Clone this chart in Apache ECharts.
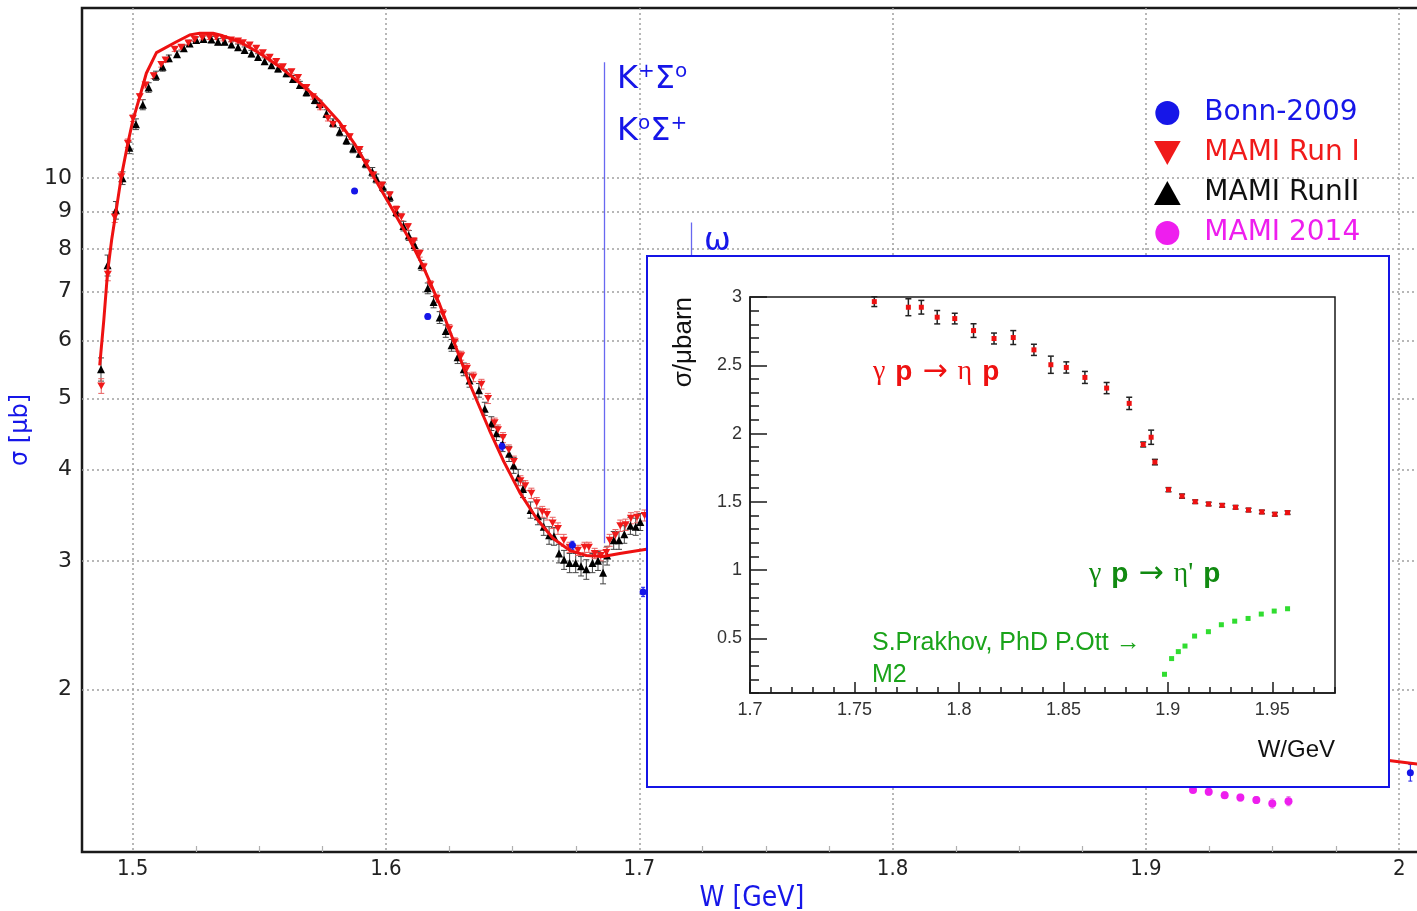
<!DOCTYPE html>
<html>
<head>
<meta charset="utf-8">
<script src="https://cdn.jsdelivr.net/npm/echarts@6/dist/echarts.min.js"></script>
<style>
  html, body { margin: 0; padding: 0; background: #fff; }
  #chart { width: 1417px; height: 911px; }
</style>
</head>
<body>
<div id="chart"></div>
<script>
// ---- eta photoproduction total cross section, gamma p -> eta p ----

// model curve (W in GeV, sigma in microbarn)
const curveW = [1.4870, 1.4886, 1.4901, 1.4917, 1.4929, 1.4955, 1.4981, 1.5001, 1.5028, 1.5054,
  1.5094, 1.5173, 1.5225, 1.5265, 1.5317, 1.5356, 1.5422, 1.5501, 1.5580, 1.5659,
  1.5738, 1.5817, 1.5876, 1.5940, 1.6015, 1.6094, 1.6146, 1.6212, 1.6271, 1.6330,
  1.6409, 1.6462, 1.6528, 1.6594, 1.6659, 1.6725, 1.6791, 1.6857, 1.6923, 1.7028,
  1.7200, 1.7500, 1.8000, 1.8500, 1.9000, 1.9500, 1.9959, 2.0090];
const curveSigma = [5.55, 6.39, 7.44, 8.23, 8.76, 10.04, 11.16, 12.0, 12.92, 13.91,
  14.84, 15.36, 15.69, 15.78, 15.78, 15.65, 15.36, 14.81, 14.2, 13.50,
  12.78, 11.92, 11.14, 10.20, 9.20, 8.23, 7.58, 6.72, 5.94, 5.24,
  4.52, 4.12, 3.72, 3.43, 3.22, 3.10, 3.05, 3.04, 3.07, 3.11,
  3.15, 3.0, 2.7, 2.35, 1.9, 1.68, 1.60, 1.58];

// MAMI Run I
const runIW = [1.4876, 1.4902, 1.4929, 1.4955, 1.4981, 1.5001, 1.5028, 1.5051, 1.5083, 1.5113,
  1.5130, 1.5166, 1.5192, 1.5220, 1.5245, 1.5275, 1.5303, 1.5330, 1.5358, 1.5388,
  1.5416, 1.5435, 1.5462, 1.5488, 1.5514, 1.5541, 1.5567, 1.5593, 1.5627, 1.5653,
  1.5686, 1.5712, 1.5740, 1.5771, 1.5791, 1.5830, 1.5857, 1.5896, 1.5922, 1.5950,
  1.5985, 1.6015, 1.6041, 1.6061, 1.6087, 1.6110, 1.6133, 1.6149, 1.6175, 1.6200,
  1.6225, 1.6250, 1.6272, 1.6297, 1.6320, 1.6345, 1.6377, 1.6403, 1.6429, 1.6442,
  1.6462, 1.6485, 1.6505, 1.6531, 1.6550, 1.6574, 1.6595, 1.6617, 1.6636, 1.6658,
  1.6679, 1.6702, 1.6725, 1.6758, 1.6784, 1.6801, 1.6824, 1.6848, 1.6870, 1.6883,
  1.6906, 1.6925, 1.6946, 1.6967, 1.6991, 1.7021];
const runISigma = [5.20, 7.39, 8.85, 10.04, 11.16, 12.07, 12.92, 13.40, 13.80, 14.30,
  14.50, 15.00, 15.10, 15.30, 15.47, 15.55, 15.57, 15.57, 15.50, 15.45,
  15.40, 15.31, 15.20, 15.05, 14.84, 14.63, 14.43, 14.20, 13.98, 13.73,
  13.30, 12.92, 12.50, 12.07, 11.85, 11.69, 11.39, 10.94, 10.47, 10.10,
  9.78, 9.48, 9.06, 8.85, 8.58, 8.20, 7.89, 7.56, 7.15, 6.85,
  6.52, 6.22, 5.97, 5.72, 5.50, 5.35, 5.23, 5.00, 4.63, 4.53,
  4.42, 4.25, 4.10, 3.86, 3.80, 3.71, 3.60, 3.50, 3.47, 3.38,
  3.32, 3.20, 3.13, 3.10, 3.13, 3.13, 3.07, 3.05, 3.08, 3.20,
  3.25, 3.35, 3.36, 3.43, 3.44, 3.46];
const runIErr = [0.12, 0.15, 0.15, 0.15, 0.15, 0.12, 0.12, 0.12, 0.12, 0.12,
  0.10, 0.10, 0.10, 0.10, 0.10, 0.10, 0.10, 0.10, 0.10, 0.10,
  0.10, 0.10, 0.10, 0.10, 0.10, 0.10, 0.10, 0.10, 0.10, 0.10,
  0.10, 0.10, 0.10, 0.10, 0.10, 0.10, 0.10, 0.10, 0.10, 0.10,
  0.10, 0.10, 0.10, 0.10, 0.09, 0.09, 0.09, 0.09, 0.09, 0.09,
  0.09, 0.09, 0.08, 0.08, 0.08, 0.08, 0.08, 0.08, 0.07, 0.07,
  0.07, 0.07, 0.07, 0.06, 0.06, 0.06, 0.06, 0.06, 0.06, 0.06,
  0.06, 0.06, 0.05, 0.05, 0.05, 0.05, 0.05, 0.05, 0.05, 0.06,
  0.06, 0.06, 0.06, 0.06, 0.06, 0.06];

// MAMI Run II
const runIIW = [1.4875, 1.4901, 1.4934, 1.4960, 1.4987, 1.5013, 1.5040, 1.5063, 1.5092, 1.5118,
  1.5143, 1.5175, 1.5202, 1.5225, 1.5251, 1.5280, 1.5311, 1.5337, 1.5363, 1.5390,
  1.5416, 1.5442, 1.5469, 1.5495, 1.5521, 1.5548, 1.5574, 1.5607, 1.5633, 1.5660,
  1.5686, 1.5719, 1.5738, 1.5765, 1.5791, 1.5817, 1.5844, 1.5870, 1.5896, 1.5920,
  1.5946, 1.5962, 1.5988, 1.6015, 1.6041, 1.6069, 1.6090, 1.6113, 1.6140, 1.6165,
  1.6188, 1.6212, 1.6236, 1.6259, 1.6283, 1.6307, 1.6330, 1.6367, 1.6390, 1.6416,
  1.6436, 1.6460, 1.6486, 1.6504, 1.6522, 1.6541, 1.6571, 1.6600, 1.6623, 1.6644,
  1.6663, 1.6683, 1.6703, 1.6725, 1.6749, 1.6770, 1.6791, 1.6815, 1.6837, 1.6857,
  1.6873, 1.6899, 1.6920, 1.6941, 1.6965, 1.6986, 1.7004];
const runIISigma = [5.48, 7.60, 9.04, 10.0, 11.0, 11.85, 12.6, 13.3, 13.8, 14.2,
  14.58, 14.77, 15.05, 15.28, 15.44, 15.49, 15.47, 15.36, 15.36, 15.23,
  15.10, 14.96, 14.80, 14.64, 14.45, 14.27, 14.12, 13.91, 13.66, 13.41,
  13.10, 12.79, 12.63, 12.25, 11.90, 11.57, 11.27, 10.98, 10.81, 10.47,
  10.20, 9.99, 9.73, 9.43, 8.99, 8.60, 8.35, 8.10, 7.60, 7.07,
  6.77, 6.45, 6.18, 5.91, 5.69, 5.48, 5.29, 5.13, 4.84, 4.62,
  4.48, 4.33, 4.20, 4.05, 3.90, 3.76, 3.52, 3.45, 3.34, 3.25,
  3.24, 3.07, 3.01, 2.98, 2.98, 2.95, 2.92, 2.98, 3.00, 2.89,
  3.05, 3.20, 3.20, 3.26, 3.35, 3.34, 3.39];
const runIIErr = [0.20, 0.25, 0.25, 0.20, 0.20, 0.20, 0.20, 0.20, 0.20, 0.20,
  0.15, 0.15, 0.15, 0.15, 0.15, 0.15, 0.15, 0.15, 0.15, 0.15,
  0.15, 0.15, 0.15, 0.15, 0.15, 0.15, 0.15, 0.15, 0.15, 0.15,
  0.15, 0.15, 0.15, 0.15, 0.15, 0.15, 0.15, 0.15, 0.14, 0.14,
  0.14, 0.14, 0.14, 0.14, 0.13, 0.13, 0.13, 0.13, 0.12, 0.12,
  0.12, 0.12, 0.12, 0.11, 0.11, 0.11, 0.11, 0.11, 0.10, 0.10,
  0.10, 0.10, 0.10, 0.10, 0.10, 0.10, 0.09, 0.09, 0.09, 0.09,
  0.09, 0.09, 0.09, 0.09, 0.09, 0.09, 0.09, 0.09, 0.09, 0.10,
  0.09, 0.09, 0.09, 0.09, 0.09, 0.09, 0.09];

// Bonn 2009
const bonnW = [1.5876, 1.6165, 1.6458, 1.6736, 1.7015, 2.0044];
const bonnSigma = [9.60, 6.47, 4.30, 3.15, 2.72, 1.54];
const bonnErr = [0.06, 0.05, 0.05, 0.04, 0.04, 0.04];

// MAMI 2014
const mami14W = [1.9186, 1.9248, 1.9311, 1.9373, 1.9436, 1.9499, 1.9563];
const mami14Sigma = [1.458, 1.450, 1.435, 1.424, 1.413, 1.398, 1.408];
const mami14Err = [0.010, 0.015, 0.015, 0.015, 0.015, 0.020, 0.020];

// production thresholds: K+Sigma0 / K0Sigma+ and omega
const thresholdW = [1.686, 1.7207];
const thresholdTop = [14.4, 8.7];
const thresholdBottom = [3.17, 3.0];

// inset: gamma p -> eta p and gamma p -> eta' p
const etaW = [1.7595, 1.7758, 1.7820, 1.7896, 1.7980, 1.8070, 1.8168, 1.8260, 1.8359, 1.8440,
  1.8514, 1.8603, 1.8707, 1.8815, 1.8882, 1.8920, 1.8938, 1.9003, 1.9068, 1.9131,
  1.9195, 1.9260, 1.9324, 1.9386, 1.9450, 1.9512, 1.9573];
const etaSigma = [2.966, 2.925, 2.925, 2.852, 2.842, 2.754, 2.696, 2.703, 2.613, 2.504,
  2.484, 2.411, 2.333, 2.221, 1.920, 1.973, 1.791, 1.589, 1.542, 1.501,
  1.484, 1.474, 1.460, 1.440, 1.426, 1.409, 1.421];
const etaErr = [0.036, 0.062, 0.050, 0.049, 0.039, 0.050, 0.040, 0.051, 0.041, 0.063,
  0.041, 0.044, 0.041, 0.045, 0.018, 0.052, 0.020, 0.015, 0.015, 0.013,
  0.013, 0.013, 0.013, 0.013, 0.013, 0.013, 0.013];
const etaPrimeW = [1.8984, 1.9018, 1.9050, 1.9082, 1.9128, 1.9194, 1.9256, 1.9320, 1.9384, 1.9447, 1.9509, 1.9573];
const etaPrimeSigma = [0.237, 0.352, 0.403, 0.444, 0.517, 0.549, 0.600, 0.626, 0.646, 0.678, 0.700, 0.717];
const etaPrimeErr = [0.006, 0.006, 0.006, 0.007, 0.007, 0.008, 0.008, 0.009, 0.009, 0.010, 0.010, 0.010];

// tick values
const mainWTicks = [1.5, 1.6, 1.7, 1.8, 1.9, 2.0];
const mainWMinor = [1.525, 1.55, 1.575, 1.625, 1.65, 1.675, 1.725, 1.75, 1.775,
  1.825, 1.85, 1.875, 1.925, 1.95, 1.975];
const mainSigmaTicks = [2, 3, 4, 5, 6, 7, 8, 9, 10];
const insetWTicks = [1.7, 1.75, 1.8, 1.85, 1.9, 1.95];
const insetSigmaTicks = [0.5, 1, 1.5, 2, 2.5, 3];

// ---- helpers ----
const pairs = (xs, ys) => xs.map((x, i) => [x, ys[i]]);
const bars = (xs, ys, es) => xs.map((x, i) => [x, ys[i] - es[i], ys[i] + es[i]]);

function errorBars(capHalf, color, width) {
  return function (params, api) {
    const x = api.value(0);
    const lo = api.coord([x, api.value(1)]);
    const hi = api.coord([x, api.value(2)]);
    const st = { stroke: color, lineWidth: width };
    return {
      type: 'group',
      children: [
        { type: 'line', shape: { x1: lo[0], y1: lo[1], x2: hi[0], y2: hi[1] }, style: st },
        { type: 'line', shape: { x1: lo[0] - capHalf, y1: lo[1], x2: lo[0] + capHalf, y2: lo[1] }, style: st },
        { type: 'line', shape: { x1: hi[0] - capHalf, y1: hi[1], x2: hi[0] + capHalf, y2: hi[1] }, style: st }
      ]
    };
  };
}

const BLUE = '#1616e8';
const RED = '#f01a1a';
const MAGENTA = '#ee1eee';
const DOWN_TRI = 'path://M0,0L10,0L5,9Z';
const UP_TRI = 'path://M5,0L10,9L0,9Z';
const insetFont = 'Liberation Sans';

// reaction label: gamma p -> meson p, with bold protons and a long arrow
function reactionRich(color) {
  return {
    g: { fontFamily: 'Liberation Serif', fontSize: 28, fill: color, verticalAlign: 'middle' },
    b: { fontFamily: 'Liberation Sans', fontWeight: 'bold', fontSize: 28, fill: color, verticalAlign: 'middle' },
    a: { fontFamily: 'DejaVu Sans', fontSize: 30, fill: color, verticalAlign: 'middle' },
    s: { width: 10 }
  };
}

const chart = echarts.init(document.getElementById('chart'));

const thresholdLines = thresholdW.map((w, i) => [
  { coord: [w, thresholdTop[i]] },
  { coord: [w, thresholdBottom[i]] }
]);

const option = {
  animation: false,
  backgroundColor: '#fff',
  textStyle: { fontFamily: 'DejaVu Sans' },
  grid: [
    { left: 82, top: 8, right: -5, bottom: 59, show: true, borderColor: '#1a1a1a',
      borderWidth: 2.5, backgroundColor: 'transparent', outerBoundsMode: 'none' },
    { left: 750, top: 297, width: 585, height: 396, show: true, borderColor: '#1a1a1a',
      borderWidth: 1.5, backgroundColor: 'transparent', z: 12, outerBoundsMode: 'none' }
  ],
  xAxis: [
    { // main W axis: labels and grid lines
      gridIndex: 0, type: 'value', min: 1.48, max: 2.009, position: 'bottom',
      axisLine: { show: false },
      axisTick: { show: false, customValues: mainWTicks },
      axisLabel: { customValues: mainWTicks, margin: 6, color: '#222', fontSize: 22,
        fontFamily: 'DejaVu Sans Condensed', formatter: v => String(Math.round(v * 10) / 10) },
      splitLine: { show: true, lineStyle: { color: '#a0a0a0', width: 1.5, type: [2, 3] } },
      name: 'W [GeV]', nameLocation: 'middle', nameGap: 30,
      nameTextStyle: { color: BLUE, fontSize: 28, fontFamily: 'DejaVu Sans Condensed' }
    },
    { // inset W axis
      gridIndex: 1, type: 'value', min: 1.7, max: 1.98, position: 'bottom', z: 13,
      axisLine: { show: true, onZero: false, lineStyle: { color: '#1a1a1a', width: 1.5 } },
      axisTick: { show: true, inside: true, length: 11, customValues: insetWTicks,
        lineStyle: { color: '#1a1a1a', width: 1.5 } },
      axisLabel: { customValues: insetWTicks, margin: 8, color: '#333', fontSize: 18,
        fontFamily: insetFont, formatter: v => String(Math.round(v * 100) / 100) },
      splitLine: { show: false }
    },
    { // main W axis: minor ticks
      gridIndex: 0, type: 'value', min: 1.48, max: 2.009, position: 'bottom',
      axisLine: { show: false },
      axisTick: { show: true, inside: true, length: 6, customValues: mainWMinor,
        lineStyle: { color: '#b0b0b0', width: 1.2 } },
      axisLabel: { show: false }, splitLine: { show: false }
    },
    { // inset W axis: minor ticks
      gridIndex: 1, type: 'value', min: 1.7, max: 1.98, interval: 0.01, position: 'bottom', z: 13,
      axisLine: { show: false },
      axisTick: { show: true, inside: true, length: 6, lineStyle: { color: '#1a1a1a', width: 1.5 } },
      axisLabel: { show: false }, splitLine: { show: false }
    }
  ],
  yAxis: [
    { // main sigma axis (log)
      gridIndex: 0, type: 'log', logBase: 10, min: 1.2, max: 17.08, position: 'left',
      axisLine: { show: false },
      axisTick: { show: false, customValues: mainSigmaTicks },
      axisLabel: { customValues: mainSigmaTicks, margin: 10, color: '#222', fontSize: 22,
        fontFamily: 'DejaVu Sans', formatter: v => String(Math.round(v)) },
      splitLine: { show: true, lineStyle: { color: '#a0a0a0', width: 1.5, type: [2, 3] } },
      name: 'σ [μb]', nameLocation: 'middle', nameGap: 35, nameRotate: 90,
      nameTextStyle: { color: BLUE, fontSize: 24, fontFamily: 'DejaVu Sans' }
    },
    { // inset sigma axis
      gridIndex: 1, type: 'value', min: 0.1, max: 3, position: 'left', z: 13,
      axisLine: { show: true, onZero: false, lineStyle: { color: '#1a1a1a', width: 1.5 } },
      axisTick: { show: true, inside: true, length: 17, customValues: insetSigmaTicks,
        lineStyle: { color: '#1a1a1a', width: 1.5 } },
      axisLabel: { customValues: insetSigmaTicks, margin: 8, color: '#333', fontSize: 18,
        fontFamily: insetFont, formatter: v => String(Math.round(v * 10) / 10) },
      splitLine: { show: false }
    },
    { // inset sigma axis: minor ticks
      gridIndex: 1, type: 'value', min: 0.1, max: 3, interval: 0.1, position: 'left', z: 13,
      axisLine: { show: false },
      axisTick: { show: true, inside: true, length: 9, lineStyle: { color: '#1a1a1a', width: 1.5 } },
      axisLabel: { show: false }, splitLine: { show: false }
    }
  ],
  legend: {
    orient: 'vertical', left: 1149, top: 94, itemWidth: 64, itemHeight: 24,
    itemGap: 12, selectedMode: false, symbolKeepAspect: true,
    textStyle: { fontFamily: 'DejaVu Sans', fontSize: 28, lineHeight: 28 },
    data: [
      { name: 'Bonn-2009', icon: 'circle', textStyle: { color: BLUE } },
      { name: 'MAMI Run I', icon: DOWN_TRI, textStyle: { color: RED } },
      { name: 'MAMI RunII', icon: UP_TRI, textStyle: { color: '#111' } },
      { name: 'MAMI 2014', icon: 'circle', textStyle: { color: MAGENTA } }
    ]
  },
  series: [
    // main panel
    { name: 'runII-err', type: 'custom', xAxisIndex: 0, yAxisIndex: 0, z: 2, silent: true,
      renderItem: errorBars(3, '#444', 1), encode: { x: 0, y: [1, 2] },
      data: bars(runIIW, runIISigma, runIIErr) },
    { name: 'runI-err', type: 'custom', xAxisIndex: 0, yAxisIndex: 0, z: 2, silent: true,
      renderItem: errorBars(3, '#e86060', 1), encode: { x: 0, y: [1, 2] },
      data: bars(runIW, runISigma, runIErr) },
    { name: 'MAMI RunII', type: 'scatter', xAxisIndex: 0, yAxisIndex: 0, z: 2,
      symbol: UP_TRI, symbolSize: [8, 8], itemStyle: { color: '#000', opacity: 1 },
      data: pairs(runIIW, runIISigma) },
    { name: 'MAMI Run I', type: 'scatter', xAxisIndex: 0, yAxisIndex: 0, z: 2,
      symbol: DOWN_TRI, symbolSize: [8, 7], itemStyle: { color: RED, opacity: 1 },
      data: pairs(runIW, runISigma) },
    { name: 'bonn-err', type: 'custom', xAxisIndex: 0, yAxisIndex: 0, z: 2, silent: true,
      renderItem: errorBars(2, BLUE, 1), encode: { x: 0, y: [1, 2] },
      data: bars(bonnW, bonnSigma, bonnErr) },
    { name: 'Bonn-2009', type: 'scatter', xAxisIndex: 0, yAxisIndex: 0, z: 2,
      symbol: 'circle', symbolSize: 7, itemStyle: { color: BLUE, opacity: 1 },
      data: pairs(bonnW, bonnSigma) },
    { name: 'mami14-err', type: 'custom', xAxisIndex: 0, yAxisIndex: 0, z: 2, silent: true,
      renderItem: errorBars(2, '#e070e0', 1), encode: { x: 0, y: [1, 2] },
      data: bars(mami14W, mami14Sigma, mami14Err) },
    { name: 'MAMI 2014', type: 'scatter', xAxisIndex: 0, yAxisIndex: 0, z: 2,
      symbol: 'circle', symbolSize: 8, itemStyle: { color: MAGENTA, opacity: 1 },
      data: pairs(mami14W, mami14Sigma) },
    { name: 'model', type: 'line', xAxisIndex: 0, yAxisIndex: 0, z: 3,
      showSymbol: false, smooth: false,
      lineStyle: { color: '#ee1111', width: 3, join: 'round' },
      data: pairs(curveW, curveSigma),
      markLine: { silent: true, symbol: ['none', 'none'], label: { show: false },
        lineStyle: { color: '#6868f0', width: 1.3, type: 'solid' },
        data: thresholdLines } },

    // inset panel
    { name: 'eta-err', type: 'custom', xAxisIndex: 1, yAxisIndex: 1, z: 14, silent: true,
      renderItem: errorBars(3, '#222', 1.5), encode: { x: 0, y: [1, 2] },
      data: bars(etaW, etaSigma, etaErr) },
    { name: 'eta', type: 'scatter', xAxisIndex: 1, yAxisIndex: 1, z: 14,
      symbol: 'rect', symbolSize: 5, itemStyle: { color: '#ee1111', opacity: 1 },
      data: pairs(etaW, etaSigma) },
    { name: 'etaprime-err', type: 'custom', xAxisIndex: 1, yAxisIndex: 1, z: 14, silent: true,
      renderItem: errorBars(2, '#2a9a2a', 1), encode: { x: 0, y: [1, 2] },
      data: bars(etaPrimeW, etaPrimeSigma, etaPrimeErr) },
    { name: 'etaprime', type: 'scatter', xAxisIndex: 1, yAxisIndex: 1, z: 14,
      symbol: 'rect', symbolSize: 5, itemStyle: { color: '#30dd30', opacity: 1 },
      data: pairs(etaPrimeW, etaPrimeSigma) }
  ],
  graphic: {
    elements: [
      // inset frame
      { type: 'rect', z: 10, silent: true, shape: { x: 647, y: 256, width: 742, height: 531 },
        style: { fill: '#fff', stroke: '#1414e6', lineWidth: 2 } },
      // threshold labels
      { type: 'text', z: 20, x: 617, y: 62, silent: true,
        style: { text: '{m|K}{s|+}{m|Σ}{s|o}', textVerticalAlign: 'top', verticalAlign: 'top',
          rich: { m: { fontFamily: 'DejaVu Sans', fontSize: 32, lineHeight: 36, fill: BLUE },
                  s: { fontFamily: 'DejaVu Sans', fontSize: 20, lineHeight: 36, fill: BLUE, verticalAlign: 'top' } } } },
      { type: 'text', z: 20, x: 617, y: 114, silent: true,
        style: { text: '{m|K}{s|o}{m|Σ}{s|+}', textVerticalAlign: 'top', verticalAlign: 'top',
          rich: { m: { fontFamily: 'DejaVu Sans', fontSize: 32, lineHeight: 36, fill: BLUE },
                  s: { fontFamily: 'DejaVu Sans', fontSize: 20, lineHeight: 36, fill: BLUE, verticalAlign: 'top' } } } },
      { type: 'text', z: 20, x: 704, y: 242, silent: true,
        style: { text: 'ω', fill: BLUE, font: '32px "DejaVu Sans"', textVerticalAlign: 'middle', verticalAlign: 'middle' } },
      // inset annotations
      { type: 'text', z: 20, x: 873, y: 372, silent: true,
        style: { text: '{g|γ}{s|}{b|p}{s|}{a|→}{s|}{g|η}{s|}{b|p}', textVerticalAlign: 'middle', verticalAlign: 'middle',
          rich: reactionRich('#ee1111') } },
      { type: 'text', z: 20, x: 1089, y: 574, silent: true,
        style: { text: "{g|γ}{s|}{b|p}{s|}{a|→}{s|}{g|η'}{s|}{b|p}", textVerticalAlign: 'middle', verticalAlign: 'middle',
          rich: reactionRich('#118a11') } },
      { type: 'text', z: 20, x: 872, y: 643, silent: true,
        style: { text: 'S.Prakhov, PhD P.Ott →', fill: '#1aa31a', font: '25px "Liberation Sans"',
          textVerticalAlign: 'middle', verticalAlign: 'middle' } },
      { type: 'text', z: 20, x: 872, y: 675, silent: true,
        style: { text: 'M2', fill: '#1aa31a', font: '25px "Liberation Sans"',
          textVerticalAlign: 'middle', verticalAlign: 'middle' } },
      { type: 'text', z: 20, x: 1335, y: 750, silent: true,
        style: { text: 'W/GeV', fill: '#111', font: '24px "Liberation Sans"',
          textAlign: 'right', align: 'right', textVerticalAlign: 'middle', verticalAlign: 'middle' } },
      { type: 'text', z: 20, x: 684, y: 297, rotation: Math.PI / 2, silent: true,
        style: { text: 'σ/μbarn', fill: '#111', font: '26px "Liberation Sans"',
          textAlign: 'right', align: 'right', textVerticalAlign: 'middle', verticalAlign: 'middle' } }
    ]
  }
};

chart.setOption(option);
</script>
</body>
</html>
